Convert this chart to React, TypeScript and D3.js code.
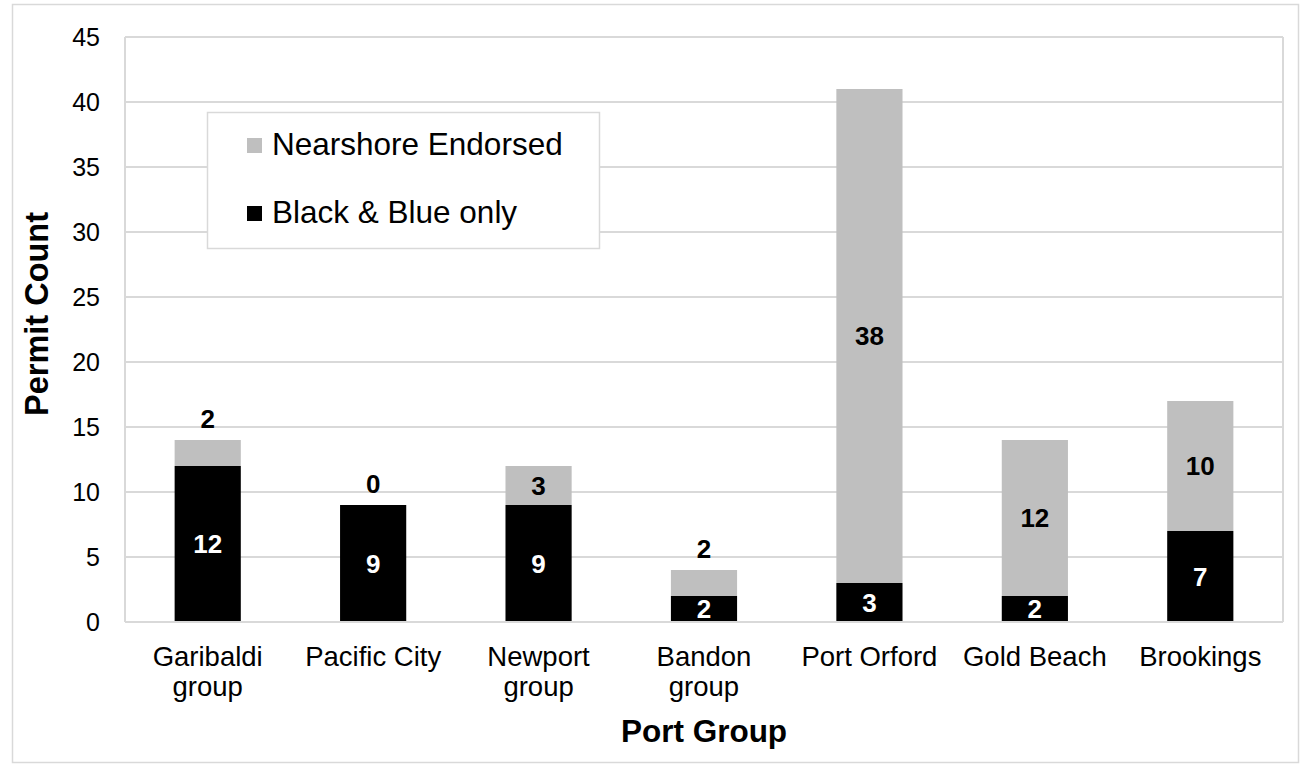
import { useEffect, useRef } from 'react';
import * as d3 from 'd3';

const categories = ['Garibaldi group', 'Pacific City', 'Newport group', 'Bandon group', 'Port Orford', 'Gold Beach', 'Brookings'];
const categoryLines = [['Garibaldi', 'group'], ['Pacific City'], ['Newport', 'group'], ['Bandon', 'group'], ['Port Orford'], ['Gold Beach'], ['Brookings']];
const blackBlueOnly = [12, 9, 9, 2, 3, 2, 7];
const nearshoreEndorsed = [2, 0, 3, 2, 38, 12, 10];
const yTicks = [0, 5, 10, 15, 20, 25, 30, 35, 40, 45];
const seriesNames = ['Black & Blue only', 'Nearshore Endorsed'];
const legendOrder = ['Nearshore Endorsed', 'Black & Blue only'];

const FONT = '"Liberation Sans", Arial, sans-serif';
const GRID = '#d9d9d9';
const colorOf: Record<string, string> = {
  'Black & Blue only': '#000000',
  'Nearshore Endorsed': '#bfbfbf',
};

export default function App() {
  const svgRef = useRef<SVGSVGElement>(null);

  useEffect(() => {
    if (!svgRef.current) return;
    const svg = d3.select(svgRef.current);
    svg.selectAll('*').remove();

    const W = 1309, H = 775;
    const plot = { left: 125, right: 1283, top: 37, bottom: 622 };

    // outer chart border
    svg.append('rect')
      .attr('x', 12.5).attr('y', 4.5)
      .attr('width', 1286).attr('height', 758)
      .attr('fill', '#fff').attr('stroke', GRID).attr('stroke-width', 1.5);

    const x = d3.scaleBand<string>()
      .domain(categories)
      .range([plot.left, plot.right])
      .paddingInner(0.6)
      .paddingOuter(0.3);

    const y = d3.scaleLinear().domain([0, 45]).range([plot.bottom, plot.top]);

    // gridlines
    svg.append('g')
      .selectAll('line')
      .data(yTicks)
      .enter()
      .append('line')
      .attr('x1', plot.left).attr('x2', plot.right)
      .attr('y1', d => y(d)).attr('y2', d => y(d))
      .attr('stroke', GRID).attr('stroke-width', 2);

    // plot area sides
    svg.append('line')
      .attr('x1', plot.left).attr('x2', plot.left)
      .attr('y1', plot.top).attr('y2', plot.bottom)
      .attr('stroke', GRID).attr('stroke-width', 2);
    svg.append('line')
      .attr('x1', plot.right).attr('x2', plot.right)
      .attr('y1', plot.top).attr('y2', plot.bottom)
      .attr('stroke', GRID).attr('stroke-width', 2);

    // y tick labels
    svg.append('g')
      .selectAll('text')
      .data(yTicks)
      .enter()
      .append('text')
      .attr('x', 100)
      .attr('y', d => y(d))
      .attr('dy', '0.35em')
      .attr('text-anchor', 'end')
      .attr('font-family', FONT)
      .attr('font-size', 25)
      .attr('fill', '#000')
      .text(d => d);

    // stacked bars
    const rows = categories.map((c, i) => ({
      cat: c,
      'Black & Blue only': blackBlueOnly[i],
      'Nearshore Endorsed': nearshoreEndorsed[i],
    }));
    const stacked = d3.stack<any>().keys(seriesNames)(rows);

    stacked.forEach(layer => {
      svg.append('g')
        .selectAll('rect')
        .data(layer)
        .enter()
        .append('rect')
        .attr('x', d => x(d.data.cat)!)
        .attr('width', x.bandwidth())
        .attr('y', d => y(d[1]))
        .attr('height', d => y(d[0]) - y(d[1]))
        .attr('fill', colorOf[layer.key]);
    });

    // data labels
    stacked.forEach(layer => {
      const isBlack = layer.key === 'Black & Blue only';
      svg.append('g')
        .selectAll('text')
        .data(layer)
        .enter()
        .append('text')
        .attr('x', d => x(d.data.cat)! + x.bandwidth() / 2)
        .attr('y', d => {
          const v = d[1] - d[0];
          if (!isBlack && v < 3) return y(d[1]) - 21;
          return (y(d[0]) + y(d[1])) / 2;
        })
        .attr('dy', '0.35em')
        .attr('text-anchor', 'middle')
        .attr('font-family', FONT)
        .attr('font-weight', 'bold')
        .attr('font-size', 26)
        .attr('fill', isBlack ? '#fff' : '#000')
        .text(d => d[1] - d[0]);
    });

    // x axis line
    svg.append('line')
      .attr('x1', plot.left).attr('x2', plot.right)
      .attr('y1', plot.bottom).attr('y2', plot.bottom)
      .attr('stroke', GRID).attr('stroke-width', 2);

    // x category labels
    const xl = svg.append('g');
    categories.forEach((c, i) => {
      const t = xl.append('text')
        .attr('x', x(c)! + x.bandwidth() / 2)
        .attr('y', 666)
        .attr('text-anchor', 'middle')
        .attr('font-family', FONT)
        .attr('font-size', 27.5)
        .attr('fill', '#000');
      categoryLines[i].forEach((line, j) => {
        t.append('tspan')
          .attr('x', x(c)! + x.bandwidth() / 2)
          .attr('dy', j === 0 ? 0 : 30)
          .text(line);
      });
    });

    // axis titles
    svg.append('text')
      .attr('x', (plot.left + plot.right) / 2)
      .attr('y', 742)
      .attr('text-anchor', 'middle')
      .attr('font-family', FONT)
      .attr('font-weight', 'bold')
      .attr('font-size', 31.5)
      .text('Port Group');

    svg.append('text')
      .attr('transform', 'translate(48,314) rotate(-90)')
      .attr('text-anchor', 'middle')
      .attr('font-family', FONT)
      .attr('font-weight', 'bold')
      .attr('font-size', 32.5)
      .text('Permit Count');

    // legend
    const legend = svg.append('g');
    legend.append('rect')
      .attr('x', 207.5).attr('y', 112.5)
      .attr('width', 392).attr('height', 136)
      .attr('fill', '#fff').attr('stroke', GRID).attr('stroke-width', 1.5);
    legendOrder.forEach((name, i) => {
      const gy = 138 + i * 68;
      legend.append('rect')
        .attr('x', 247).attr('y', gy)
        .attr('width', 15).attr('height', 15)
        .attr('fill', colorOf[name]);
      legend.append('text')
        .attr('x', 272).attr('y', gy + 17)
        .attr('font-family', FONT)
        .attr('font-size', 31.5)
        .attr('fill', '#000')
        .text(name);
    });

    svg.attr('width', W).attr('height', H);
  }, []);

  return (
    <svg
      ref={svgRef}
      width={1309}
      height={775}
      style={{ position: 'absolute', left: 0, top: 0, background: '#fff' }}
    />
  );
}
